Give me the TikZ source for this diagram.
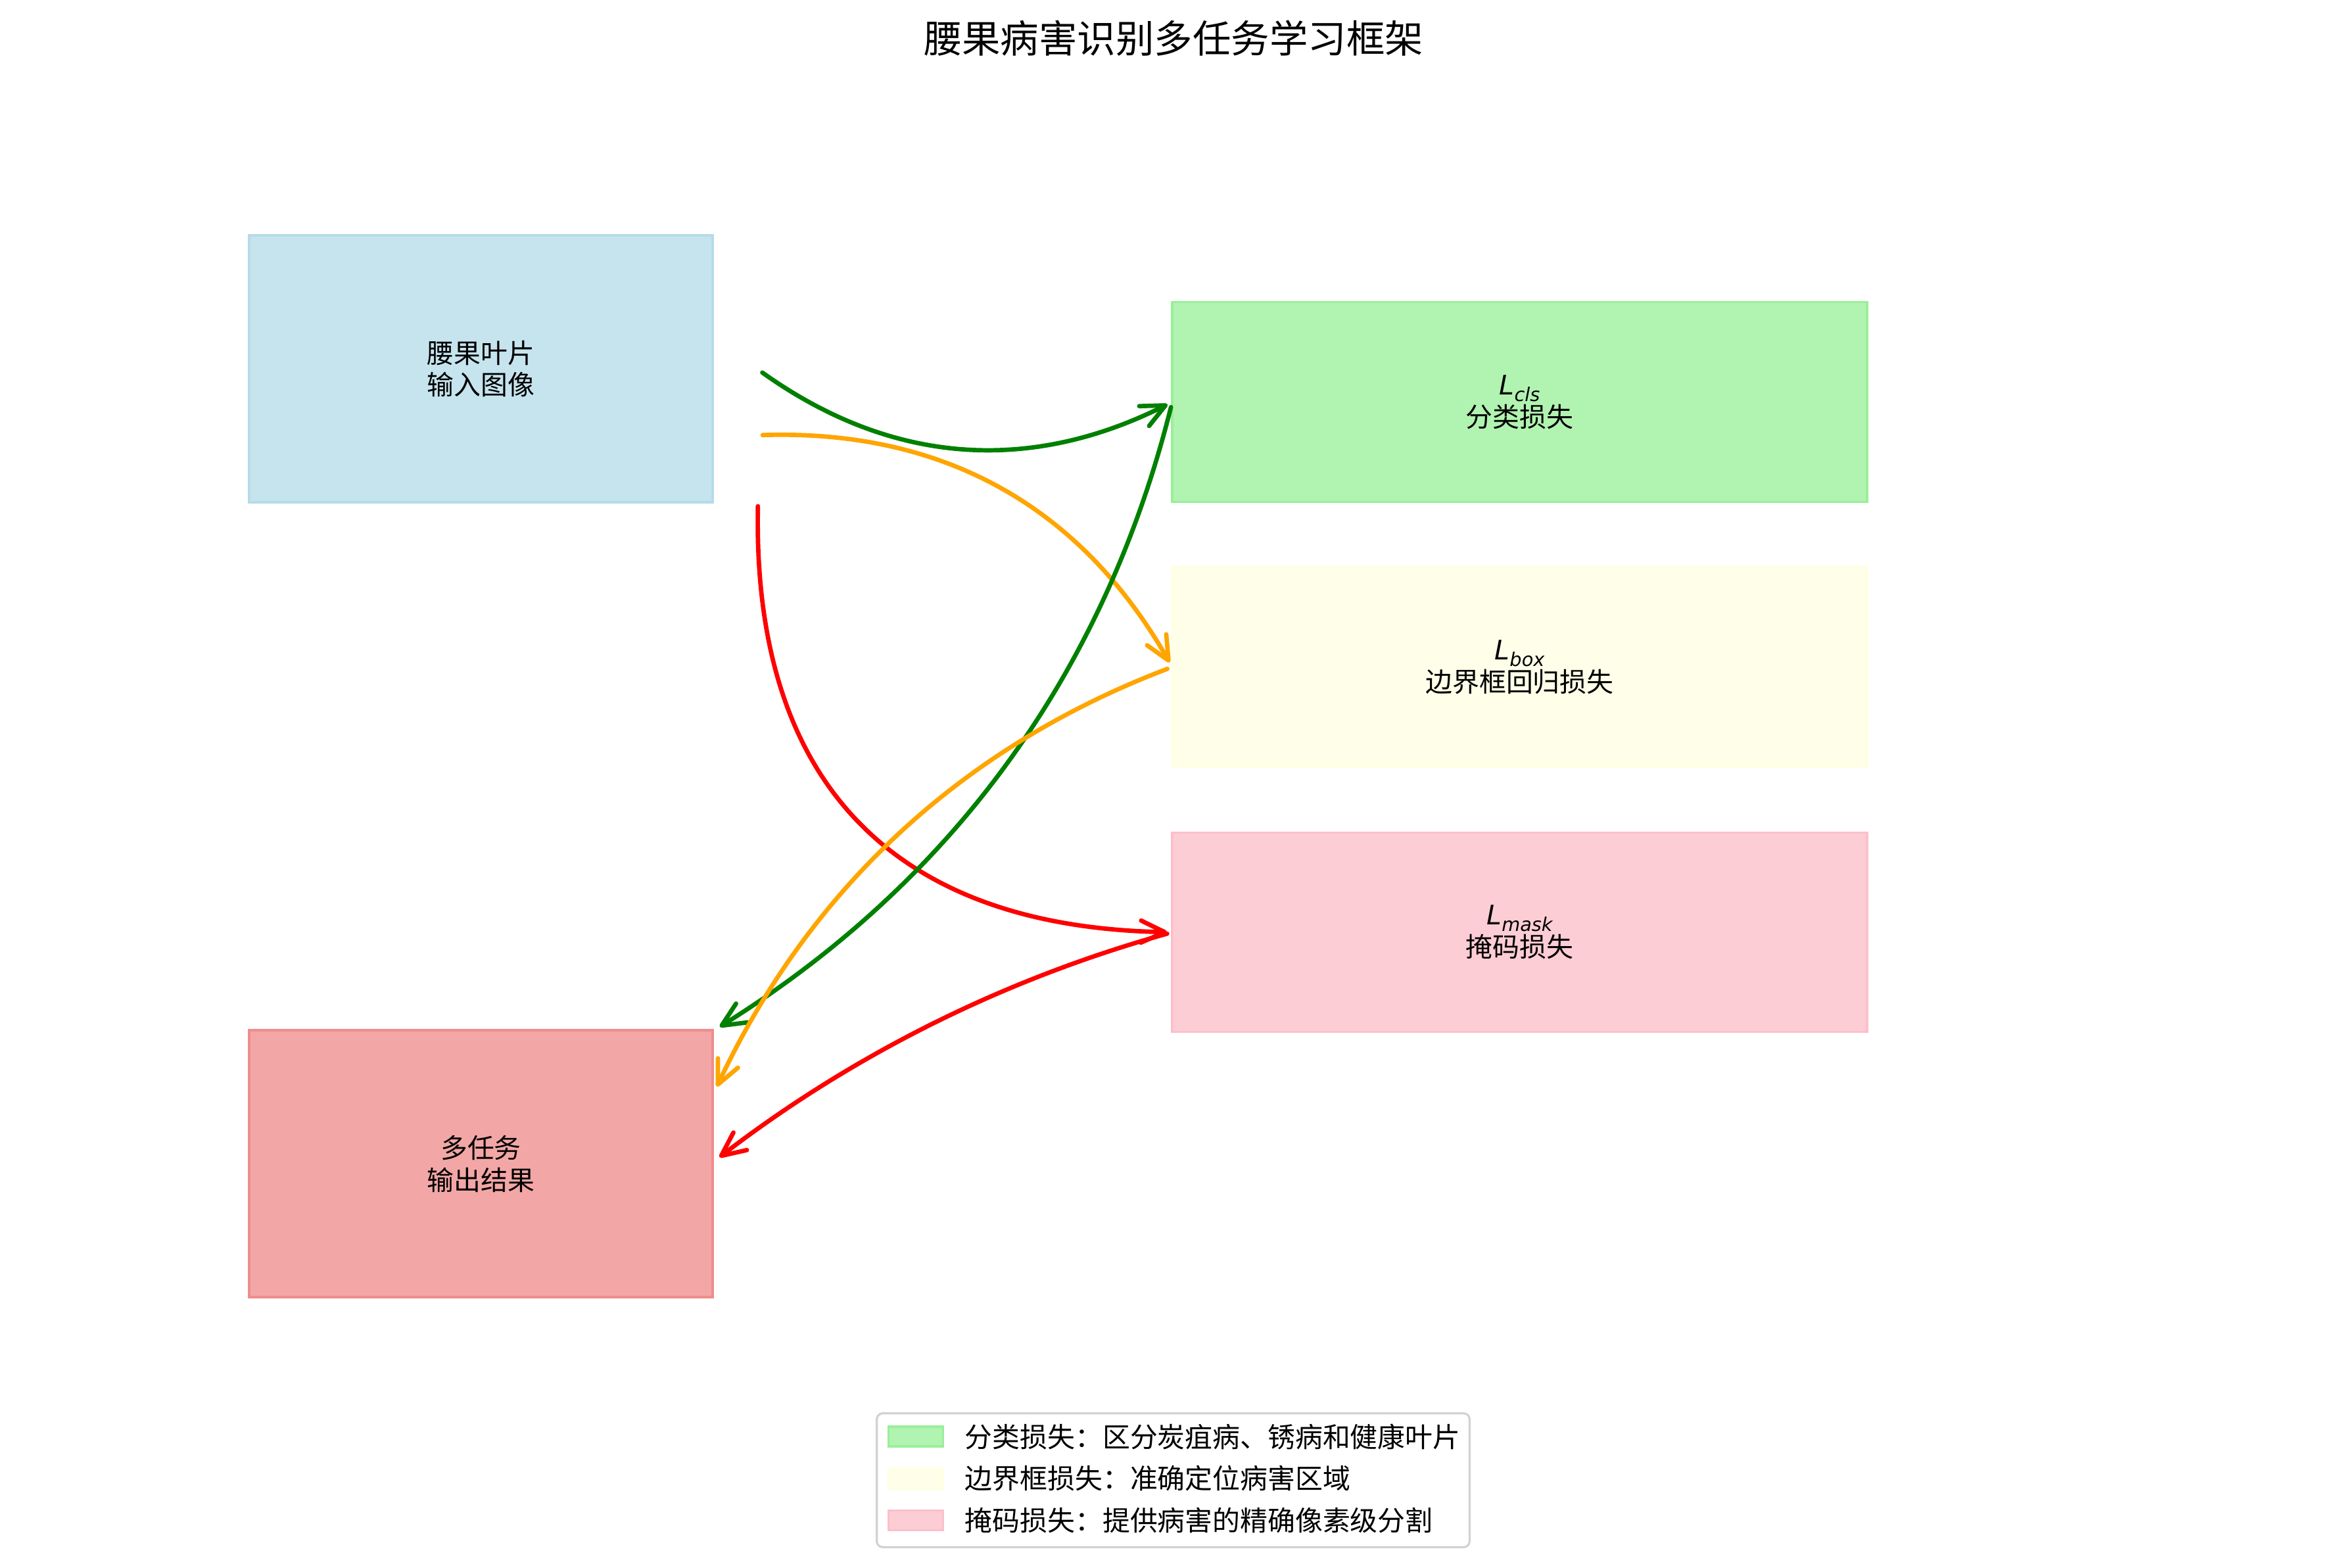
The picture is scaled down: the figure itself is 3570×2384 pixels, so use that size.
\documentclass[tikz,border=0pt]{standalone}
\usepackage{fontspec}
\usepackage{tikz}
\usetikzlibrary{arrows.meta, positioning, calc}
\newfontfamily\cjk{Noto Sans CJK SC}
\newfontfamily\dejavu{DejaVu Sans}
\definecolor{leafblue}{RGB}{198, 228, 238}
\definecolor{leafblueedge}{RGB}{180, 220, 232}
\definecolor{clsgreen}{RGB}{177, 243, 177}
\definecolor{clsgreenedge}{RGB}{154, 239, 154}
\definecolor{boxyellow}{RGB}{255, 255, 233}
\definecolor{boxyellowedge}{RGB}{255, 255, 226}
\definecolor{maskpink}{RGB}{253, 205, 213}
\definecolor{maskpinkedge}{RGB}{252, 192, 202}
\definecolor{resultred}{RGB}{243, 166, 166}
\definecolor{resultrededge}{RGB}{240, 140, 140}
\definecolor{clsline}{RGB}{0, 128, 0}
\definecolor{boxline}{RGB}{255, 165, 0}
\definecolor{maskline}{RGB}{255, 0, 0}
\definecolor{legendgray}{RGB}{210, 210, 210}
\newcommand{\bodyfont}{\fontsize{12.8}{15.3}\selectfont\cjk}
\newcommand{\legendfont}{\fontsize{13.1}{15.3}\selectfont\cjk}
\newcommand{\titlefont}{\fontsize{18.3}{22}\selectfont\cjk}
\newcommand{\lossterm}[1]{{\dejavu\itshape L}\raisebox{-0.25em}{\dejavu\itshape\fontsize{9}{9}\selectfont #1}}
\tikzstyle{stage} = [rectangle, inner sep=0pt, outer sep=0pt, line width=1pt, align=center, font=\bodyfont, minimum width=7.755cm, minimum height=4.466cm]
\tikzstyle{loss} = [rectangle, inner sep=0pt, outer sep=0pt, line width=1pt, align=center, font=\bodyfont, minimum width=11.627cm, minimum height=3.34cm]
\tikzstyle{lossarrow} = [-{Straight Barb[length=4mm, width=3.7mm, round]}, line width=2.1pt, line cap=round, line join=round, shorten >=2.5pt, shorten <=2.5pt]
\tikzstyle{legendframe} = [rectangle, rounded corners=1mm, draw=legendgray, fill=white, line width=1pt, minimum width=9.92cm, minimum height=2.24cm]
\tikzstyle{legendpatch} = [rectangle, inner sep=0pt, line width=1pt, minimum width=0.92cm, minimum height=0.33cm]
\tikzstyle{legendtext} = [inner sep=0pt, font=\legendfont, anchor=west]

\begin{document}
\begin{tikzpicture}[x=0.011cm, y=-0.011cm]
    \useasboundingbox (0,0) rectangle (3570,2384);

    % Title
    \node[font=\titlefont] (title) at (1785,58) {腰果病害识别多任务学习框架};

    % Input and output
    \node[stage, fill=leafblue, draw=leafblueedge] (leaf) at (731.5,561) {腰果叶片\\输入图像};
    \node[stage, fill=resultred, draw=resultrededge] (result) at (731.5,1770) {多任务\\输出结果};

    % Loss branches
    \node[loss, fill=clsgreen, draw=clsgreenedge] (clsloss) at (2311.5,611.5) {\lossterm{cls}\\分类损失};
    \node[loss, fill=boxyellow, draw=boxyellowedge] (bboxloss) at (2311.5,1014.5) {\lossterm{box}\\边界框回归损失};
    \node[loss, fill=maskpink, draw=maskpinkedge] (maskloss) at (2311.5,1418) {\lossterm{mask}\\掩码损失};

    % Arrow ends
    \coordinate (fromcls) at (1153,562);
    \coordinate (frombox) at (1152,662);
    \coordinate (frommask) at (1153,762);
    \coordinate (tocls) at (1088,1566);
    \coordinate (tobox) at (1087,1660);
    \coordinate (tomask) at (1088,1765);

    % Arrows
    \draw[lossarrow, clsline] (fromcls) to[bend right=31] (clsloss.west);
    \draw[lossarrow, boxline] (frombox) to[bend left=31] (bboxloss.west);
    \draw[lossarrow, maskline] (frommask) to[bend right=45, looseness=1.2] (maskloss.west);
    \draw[lossarrow, clsline] (clsloss.west) to[bend left=22, looseness=0.92] (tocls);
    \draw[lossarrow, boxline] (bboxloss.west) to[bend right=22, looseness=0.92] (tobox);
    \draw[lossarrow, maskline] (maskloss.west) to[bend right=11, looseness=0.87] (tomask);

    % Legend
    \node[legendframe] (legend) at (1784.5,2251.5) {};
    \node[legendpatch, fill=clsgreen, draw=clsgreenedge] (keycls) at (1393,2185) {};
    \node[legendpatch, fill=boxyellow, draw=boxyellowedge] (keybox) at (1393,2249) {};
    \node[legendpatch, fill=maskpink, draw=maskpinkedge] (keymask) at (1393,2312.5) {};
    \node[legendtext, right=0.34cm of keycls] (textcls) {分类损失：区分炭疽病、锈病和健康叶片};
    \node[legendtext, right=0.34cm of keybox] (textbox) {边界框损失：准确定位病害区域};
    \node[legendtext, right=0.34cm of keymask] (textmask) {掩码损失：提供病害的精确像素级分割};
\end{tikzpicture}
\end{document}
